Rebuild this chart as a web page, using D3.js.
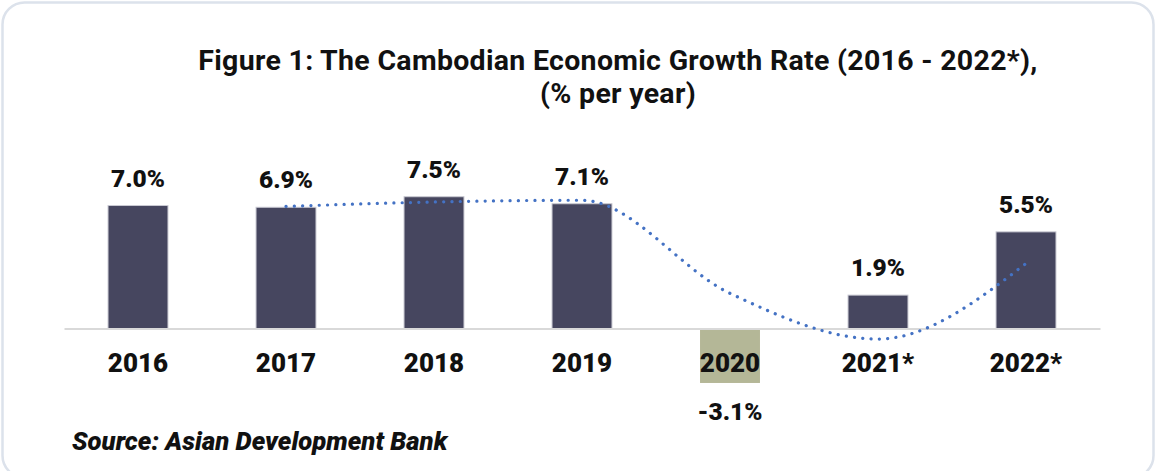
<!DOCTYPE html>
<html>
<head>
<meta charset="utf-8">
<script src="https://cdn.jsdelivr.net/npm/d3@7"></script>
<style>
  html, body { margin: 0; padding: 0; background: #fff; }
  svg { display: block; font-family: Roboto, "Noto Sans", sans-serif; }
</style>
</head>
<body>
<svg id="chart" width="1156" height="471"></svg>
<script>
// Annual growth rate of Cambodia's economy (%), * = projection
const categories = ["2016", "2017", "2018", "2019", "2020", "2021*", "2022*"];
const growth = [7.0, 6.9, 7.5, 7.1, -3.1, 1.9, 5.5];
// Two-period moving-average trend, starting from 2017
const trendCategories = ["2017", "2018", "2019", "2020", "2021*", "2022*"];
const trendValues = [6.95, 7.2, 7.3, 2.0, -0.6, 3.7];

const titleLines = ["Figure 1: The Cambodian Economic Growth Rate (2016 - 2022*),", "(% per year)"];
const sourceText = "Source: Asian Development Bank";

const svg = d3.select("#chart");
const W = 1156, H = 471;

// card frame
svg.append("rect")
  .attr("x", 2.5).attr("y", 2.5)
  .attr("width", W - 5).attr("height", H + 4)
  .attr("rx", 22).attr("ry", 22)
  .attr("fill", "#fff")
  .attr("stroke", "#dce2eb")
  .attr("stroke-width", 2.5);

const x = d3.scaleBand()
  .domain(categories)
  .range([64, 1100])
  .paddingInner(0.595)
  .paddingOuter(0.2975);

const pxPerUnit = 17.57, base = 328.5;
const y = d3.scaleLinear()
  .domain([-4, 8])
  .range([base + 4 * pxPerUnit, base - 8 * pxPerUnit]);

// title
svg.selectAll("text.title")
  .data(titleLines)
  .join("text")
  .attr("class", "title")
  .attr("x", 618)
  .attr("y", (d, i) => 70 + i * 33)
  .attr("text-anchor", "middle")
  .attr("font-size", 28.5).attr("font-weight", 700)
  .attr("letter-spacing", 0.3)
  .attr("fill", "#111")
  .text(d => d);

// bars
svg.append("g").selectAll("rect")
  .data(categories)
  .join("rect")
  .attr("x", d => x(d))
  .attr("width", x.bandwidth())
  .attr("y", (d, i) => y(Math.max(0, growth[i])))
  .attr("height", (d, i) => Math.abs(y(growth[i]) - y(0)))
  .attr("fill", (d, i) => growth[i] < 0 ? "#b4b797" : "#46465f")
  .attr("stroke", (d, i) => growth[i] < 0 ? "none" : "#c9c9d2")
  .attr("stroke-width", 1);

// zero axis
const axis = svg.append("g")
  .attr("transform", `translate(0,${y(0)})`)
  .call(d3.axisBottom(x).tickSize(0).tickFormat(""));
axis.select(".domain").attr("stroke", "#d9d9d9").attr("stroke-width", 2);

// category labels
svg.append("g").selectAll("text")
  .data(categories)
  .join("text")
  .attr("x", d => x(d) + x.bandwidth() / 2)
  .attr("y", 372)
  .attr("text-anchor", "middle")
  .attr("font-size", 26).attr("font-weight", 900)
  .attr("fill", "#111")
  .text(d => d);

// value labels
svg.append("g").selectAll("text")
  .data(categories)
  .join("text")
  .attr("x", d => x(d) + x.bandwidth() / 2)
  .attr("y", (d, i) => growth[i] >= 0 ? y(growth[i]) - 19 : y(growth[i]) + 37)
  .attr("text-anchor", "middle")
  .attr("font-size", 24.5).attr("font-weight", 900)
  .attr("fill", "#111")
  .text((d, i) => growth[i].toFixed(1) + "%");

// smoothed moving-average trend (dotted)
const line = d3.line()
  .x((d, i) => x(trendCategories[i]) + x.bandwidth() / 2)
  .y(d => y(d))
  .curve(d3.curveMonotoneX);
svg.append("path")
  .datum(trendValues)
  .attr("d", line)
  .attr("fill", "none")
  .attr("stroke", "#4472c4")
  .attr("stroke-width", 3.2)
  .attr("stroke-linecap", "round")
  .attr("stroke-dasharray", "0.1 8.2");

// source note
svg.append("text")
  .attr("x", 72).attr("y", 450)
  .attr("font-size", 25.7).attr("font-weight", 900).attr("font-style", "italic")
  .attr("fill", "#111")
  .text(sourceText);
</script>
</body>
</html>
